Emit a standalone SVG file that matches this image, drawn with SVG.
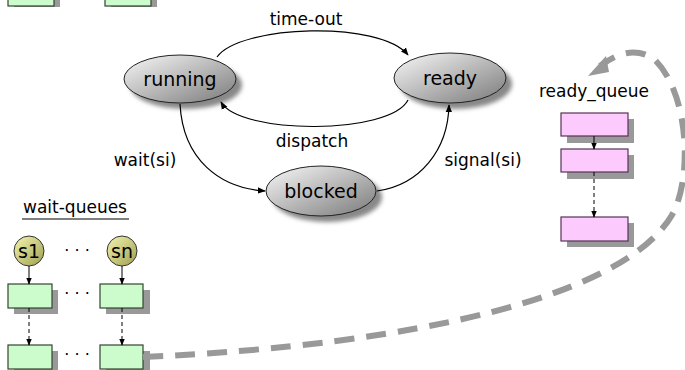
<svg xmlns="http://www.w3.org/2000/svg" width="685" height="370" viewBox="0 0 685 370">
<defs>
<linearGradient id="gState" x1="0" y1="0" x2="1" y2="1">
<stop offset="0" stop-color="#f8f8f8"/>
<stop offset="1" stop-color="#7a7a7a"/>
</linearGradient>
<linearGradient id="gSem" x1="0" y1="0" x2="1" y2="1">
<stop offset="0" stop-color="#f4f4b0"/>
<stop offset="1" stop-color="#a0a050"/>
</linearGradient>
<filter id="blur" x="-20%" y="-20%" width="140%" height="140%">
<feGaussianBlur stdDeviation="2"/>
</filter>
<marker id="ah" viewBox="0 0 10 10" refX="9" refY="5" markerWidth="8" markerHeight="8" markerUnits="userSpaceOnUse" orient="auto">
<path d="M0,1 L10,5 L0,9 Z" fill="#000"/>
</marker>
<marker id="ahs" viewBox="0 0 10 10" refX="9" refY="5" markerWidth="7" markerHeight="7" markerUnits="userSpaceOnUse" orient="auto">
<path d="M0,1 L10,5 L0,9 Z" fill="#000"/>
</marker>
</defs>
<style>
text { font-family: "DejaVu Sans", "Liberation Sans", sans-serif; fill: #000; }
.st { font-size: 19px; text-anchor: middle; }
.lb { font-size: 17px; text-anchor: middle; }
.state { fill: url(#gState); stroke: #222; stroke-width: 1; }
.eshadow { fill: #888; filter: url(#blur); }
.shadow { fill: #999; }
.green { fill: #ccfccc; stroke: #334433; stroke-width: 1.2; }
.pink { fill: #fccafc; stroke: #553355; stroke-width: 1.2; }
.sem { fill: url(#gSem); stroke: #333; stroke-width: 1; }
.conn { fill: none; stroke: #000; stroke-width: 1.2; marker-end: url(#ah); }
.qa { fill: none; stroke: #000; stroke-width: 1; marker-end: url(#ahs); }
.qd { fill: none; stroke: #000; stroke-width: 1; stroke-dasharray: 4 3; marker-end: url(#ahs); }
.dots { font-size: 16px; text-anchor: middle; }
.big { fill: none; stroke: #999; stroke-width: 6; stroke-dasharray: 20 12; }
</style>

<g id="top-boxes">
<rect class="shadow" x="14" y="-12" width="46" height="19"/>
<rect class="green" x="8" y="-18" width="46" height="24"/>
<rect class="shadow" x="111" y="-12" width="46" height="19"/>
<rect class="green" x="105" y="-18" width="46" height="24"/>
</g>

<g id="running">
<ellipse class="eshadow" cx="186" cy="85" rx="56" ry="24"/>
<ellipse class="state" cx="180" cy="79" rx="56" ry="24"/>
<text class="st" x="180" y="86">running</text>
</g>
<g id="ready">
<ellipse class="eshadow" cx="456" cy="84" rx="56" ry="25"/>
<ellipse class="state" cx="450" cy="78" rx="56" ry="25"/>
<text class="st" x="450" y="85">ready</text>
</g>
<g id="blocked">
<ellipse class="eshadow" cx="327" cy="197" rx="55" ry="25"/>
<ellipse class="state" cx="321" cy="191" rx="55" ry="25"/>
<text class="st" x="321" y="198">blocked</text>
</g>

<g id="ready_queue">
<text class="lb" x="594" y="97">ready_queue</text>
<rect class="shadow" x="567" y="119" width="67" height="24"/>
<rect class="pink" x="561" y="113" width="67" height="23"/>
<rect class="shadow" x="567" y="155" width="67" height="24"/>
<rect class="pink" x="561" y="149" width="67" height="23"/>
<rect class="shadow" x="567" y="223" width="67" height="24"/>
<rect class="pink" x="561" y="217" width="67" height="24"/>
</g>

<g id="wait-queues">
<text class="lb" x="75" y="213">wait-queues</text>
<line x1="22" y1="219" x2="129" y2="219" stroke="#000" stroke-width="1"/>
<circle class="sem" cx="29" cy="251" r="15"/>
<text class="st" x="29" y="258">s1</text>
<circle class="sem" cx="122" cy="251" r="15"/>
<text class="st" x="122" y="258">sn</text>
<text class="dots" x="77" y="256">· · ·</text>
<rect class="shadow" x="14" y="290" width="44" height="24"/>
<rect class="green" x="8" y="284" width="44" height="24"/>
<rect class="shadow" x="106" y="290" width="44" height="24"/>
<rect class="green" x="100" y="284" width="43" height="24"/>
<text class="dots" x="77" y="299">· · ·</text>
<rect class="shadow" x="14" y="351" width="44" height="24"/>
<rect class="green" x="8" y="345" width="44" height="24"/>
<rect class="shadow" x="106" y="351" width="44" height="24"/>
<rect class="green" x="100" y="345" width="43" height="24"/>
<text class="dots" x="77" y="360">· · ·</text>
</g>

<g id="connectors">
<path class="conn" d="M217,57 C240,25 380,20 408,55"/>
<path class="conn" d="M408,100 C390,135 240,135 221,102"/>
<path class="conn" d="M180,104 C183,160 220,188 265,191"/>
<path class="conn" d="M377,191 C420,185 448,150 449,105"/>
<text class="lb" x="306" y="25">time-out</text>
<text class="lb" x="312" y="147">dispatch</text>
<text class="lb" x="145" y="166">wait(si)</text>
<text class="lb" x="483" y="166">signal(si)</text>
<line class="qa" x1="594" y1="136" x2="594" y2="149"/>
<line class="qd" x1="594" y1="172" x2="594" y2="217"/>
<line class="qa" x1="29" y1="266" x2="29" y2="284"/>
<line class="qa" x1="122" y1="266" x2="122" y2="284"/>
<line class="qd" x1="29" y1="308" x2="29" y2="345"/>
<line class="qd" x1="122" y1="308" x2="122" y2="345"/>
<path class="big" d="M143,357 C420,345 625,295 672,215 C692,180 690,95 655,60 C635,45 615,55 600,66"/>
<path d="M588,76 L606,56 L609,72 Z" fill="#999"/>
</g>
</svg>
